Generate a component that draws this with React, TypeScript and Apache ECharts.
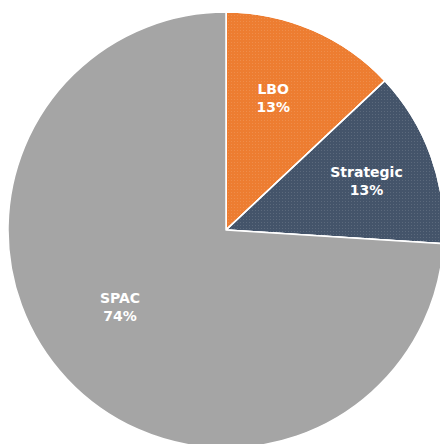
import React, { useEffect, useRef } from "react";
import * as echarts from "echarts";

const categories = ["LBO", "Strategic", "SPAC"];
const values = [13, 13, 74];
const colors = ["#ED7D31", "#44546A", "#A5A5A5"];
const labelOffsets = [
  [-10, 0],
  [5, 0],
  [-1, -22],
];
const textured = [true, true, false];

export default function App() {
  const ref = useRef<HTMLDivElement>(null);
  useEffect(() => {
    if (!ref.current) return;
    const chart = echarts.init(ref.current, undefined, { renderer: "svg" });
    const data = categories.map((name, i) => ({
      name,
      value: values[i],
      itemStyle: textured[i]
        ? {
            color: colors[i],
            decal: {
              symbol: "rect",
              symbolSize: 1,
              dashArrayX: [1, 2],
              dashArrayY: [1, 2],
              color: "rgba(255,255,255,0.12)",
              rotation: 0,
            },
          }
        : { color: colors[i] },
    }));
    chart.setOption({
      animation: false,
      series: [
        {
          type: "pie",
          center: [226, 230],
          radius: [0, 218],
          startAngle: 90,
          clockwise: true,
          silent: true,
          itemStyle: { borderColor: "#ffffff", borderWidth: 1.5 },
          label: { show: false },
          labelLine: { show: false },
          data,
        },
        {
          type: "pie",
          center: [226, 230],
          radius: [64, 218],
          startAngle: 90,
          clockwise: true,
          silent: true,
          itemStyle: { color: "transparent", borderWidth: 0 },
          label: {
            show: true,
            position: "inside",
            formatter: "{b}\n{d}%",
            color: "#ffffff",
            fontFamily: "DejaVu Sans",
            fontWeight: "bold",
            fontSize: 14,
            lineHeight: 18,
          },
          labelLine: { show: false },
          data: categories.map((name, i) => ({
            name,
            value: values[i],
            itemStyle: { color: "transparent" },
            label: { offset: labelOffsets[i] },
          })),
        },
      ],
    });
    return () => chart.dispose();
  }, []);
  return (
    <div
      ref={ref}
      style={{ position: "fixed", left: 0, top: 0, width: 440, height: 444, background: "#fff" }}
    />
  );
}
